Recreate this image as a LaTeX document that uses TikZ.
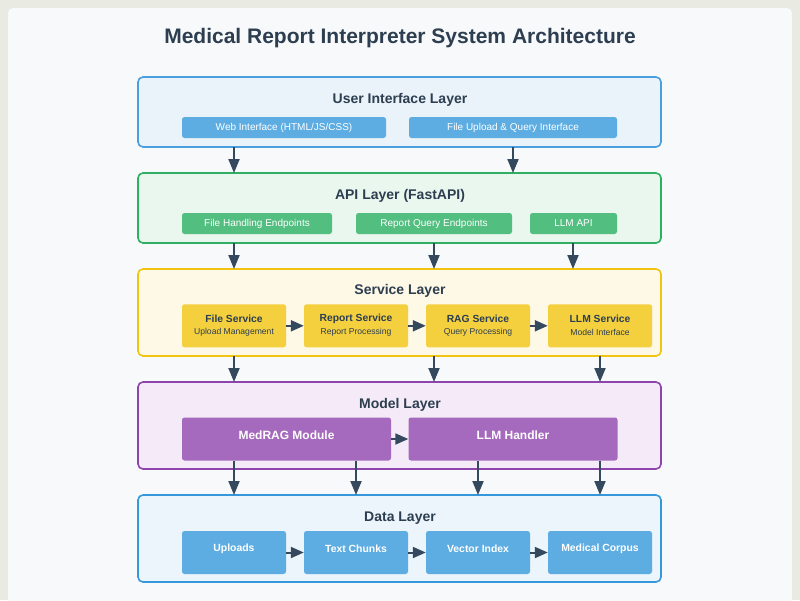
\documentclass[tikz,border=0pt]{standalone}
\usepackage{fontspec}
\setmainfont{Liberation Sans}
\usetikzlibrary{arrows.meta}
\definecolor{outerbg}{HTML}{E9EAE2}
\definecolor{cardbg}{HTML}{F8F9FB}
\definecolor{txt}{HTML}{2C3E50}
\definecolor{arr}{HTML}{34495E}
\definecolor{uiB}{HTML}{4A9FDE}\definecolor{uiF}{HTML}{EAF2FA}
\definecolor{apiB}{HTML}{2EAF62}\definecolor{apiF}{HTML}{EAF7EE}
\definecolor{svB}{HTML}{F1C40F}\definecolor{svF}{HTML}{FEF8E6}
\definecolor{mdB}{HTML}{8E44AD}\definecolor{mdF}{HTML}{F5EBF8}
\definecolor{dtB}{HTML}{3498DB}\definecolor{dtF}{HTML}{EDF5FC}
\definecolor{blueBox}{HTML}{5DADE2}
\definecolor{greenBox}{HTML}{52BE80}
\definecolor{yellowBox}{HTML}{F4D03F}
\definecolor{purpleBox}{HTML}{A569BD}
\tikzset{
  layer/.style={draw=#1, line width=1.6pt, rounded corners=5pt},
  layertitle/.style={font=\bfseries\fontsize{14}{16}\selectfont, text=txt},
  sub/.style={rounded corners=2.5pt, fill=#1, draw=none, text=white, inner sep=0pt, font=\fontsize{10}{12}\selectfont},
  svc/.style={rounded corners=2.5pt, fill=yellowBox, draw=none, text=txt, inner sep=0pt, align=center},
  conn/.style={draw=arr, line width=2pt, -{Triangle[length=14pt,width=11pt]}},
  hconn/.style={draw=arr, line width=2pt, -{Triangle[length=13pt,width=11pt]}},
}
\begin{document}
\begin{tikzpicture}[x=1pt,y=-1pt]
\useasboundingbox (0,0) rectangle (800,600);
\fill[outerbg] (0,0) rectangle (800,600);
\fill[cardbg, rounded corners=5pt] (8,8) rectangle (792,620);
\node[font=\bfseries\fontsize{21}{25}\selectfont, text=txt, anchor=base] (title) at (400,43.5) {Medical Report Interpreter System Architecture};

% layers
\filldraw[layer=uiB, fill=uiF] (138,77) rectangle (661,147);
\node[layertitle] (uit) at (400,100) {User Interface Layer};
\filldraw[layer=apiB, fill=apiF] (138,173) rectangle (661,243);
\node[layertitle] (apit) at (400,196) {API Layer (FastAPI)};
\filldraw[layer=svB, fill=svF] (138,269) rectangle (661,356);
\node[layertitle] (svt) at (400,291) {Service Layer};
\filldraw[layer=mdB, fill=mdF] (138,382) rectangle (661,469);
\node[layertitle] (mdt) at (400,405) {Model Layer};
\filldraw[layer=dtB, fill=dtF] (138,495) rectangle (661,582);
\node[layertitle] (dtt) at (400,518) {Data Layer};

% UI boxes
\node[sub=blueBox, minimum width=204pt, minimum height=21pt] (web) at (284,127.5) {Web Interface (HTML/JS/CSS)};
\node[sub=blueBox, minimum width=208pt, minimum height=21pt] (upl) at (513,127.5) {File Upload \& Query Interface};
% API boxes
\node[sub=greenBox, minimum width=150pt, minimum height=21pt] (fhe) at (257,223.5) {File Handling Endpoints};
\node[sub=greenBox, minimum width=156pt, minimum height=21pt] (rqe) at (434,223.5) {Report Query Endpoints};
\node[sub=greenBox, minimum width=87pt, minimum height=21pt] (llmapi) at (573.5,223.5) {LLM API};
% Service boxes
\foreach \n/\cx/\a/\b in {fs/234/File Service/Upload Management, rs/356/Report Service/Report Processing, rag/478/RAG Service/Query Processing, ls/600/LLM Service/Model Interface}{
  \node[svc, minimum width=104pt, minimum height=43pt] (\n) at (\cx,325.8) {};
  \node[text=txt, font=\bfseries\fontsize{10.3}{12}\selectfont] at (\cx,319) {\a};
  \node[text=txt, font=\fontsize{8.6}{10}\selectfont] at (\cx,332) {\b};
}
% Model boxes
\node[sub=purpleBox, minimum width=209pt, minimum height=43pt] (medrag) at (286.5,439) {};
\node[text=white, font=\bfseries\fontsize{12}{14}\selectfont] at (286.5,435) {MedRAG Module};
\node[sub=purpleBox, minimum width=209pt, minimum height=43pt] (llmh) at (513,439) {};
\node[text=white, font=\bfseries\fontsize{12}{14}\selectfont] at (513,435) {LLM Handler};
% Data boxes
\foreach \n/\cx/\a in {up/234/Uploads, tc/356/Text Chunks, vi/478/Vector Index, mc/600/Medical Corpus}{
  \node[sub=blueBox, minimum width=104pt, minimum height=43pt] (\n) at (\cx,552.5) {};
  \node[text=white, font=\bfseries\fontsize{10.4}{12}\selectfont] at (\cx,549) {\a};
}

% coordinates on layer borders
\coordinate (a1s) at (234,147); \coordinate (a1e) at (234,173);
\coordinate (a2s) at (513,147); \coordinate (a2e) at (513,173);
\coordinate (b1s) at (234,243); \coordinate (b1e) at (234,269);
\coordinate (b2s) at (434,243); \coordinate (b2e) at (434,269);
\coordinate (b3s) at (573,243); \coordinate (b3e) at (573,269);
\coordinate (c1s) at (234,356); \coordinate (c1e) at (234,382);
\coordinate (c2s) at (434,356); \coordinate (c2e) at (434,382);
\coordinate (c3s) at (600,356); \coordinate (c3e) at (600,382);
\coordinate (d1s) at (234,460.5); \coordinate (d1e) at (234,495);
\coordinate (d2s) at (356,460.5); \coordinate (d2e) at (356,495);
\coordinate (d3s) at (478,460.5); \coordinate (d3e) at (478,495);
\coordinate (d4s) at (600,460.5); \coordinate (d4e) at (600,495);
\foreach \s in {a1,a2,b1,b2,b3,c1,c2,c3,d1,d2,d3,d4}{
  \draw[conn] (\s s) -- (\s e);
}
% horizontal arrows
\draw[hconn] (fs.east) -- (rs.west);
\draw[hconn] (rs.east) -- (rag.west);
\draw[hconn] (rag.east) -- (ls.west);
\draw[hconn] (medrag.east) -- (llmh.west);
\draw[hconn] (up.east) -- (tc.west);
\draw[hconn] (tc.east) -- (vi.west);
\draw[hconn] (vi.east) -- (mc.west);
\end{tikzpicture}
\end{document}
